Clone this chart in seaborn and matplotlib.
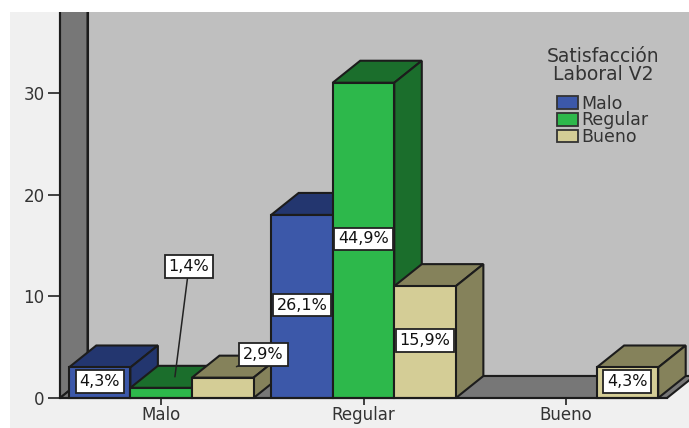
import matplotlib
matplotlib.use("Agg")
import matplotlib.pyplot as plt
import pandas as pd
import seaborn as sns
from matplotlib.patches import Patch, Polygon, Rectangle

# Cross-tabulated counts and their share of the total
categories = ["Malo", "Malo", "Malo", "Regular", "Regular", "Regular", "Bueno"]
groups = ["Malo", "Regular", "Bueno", "Malo", "Regular", "Bueno", "Bueno"]
counts = [3, 1, 2, 18, 31, 11, 3]
percent_labels = ["4,3%", "1,4%", "2,9%", "26,1%", "44,9%", "15,9%", "4,3%"]

category_order = ["Malo", "Regular", "Bueno"]
group_order = ["Malo", "Regular", "Bueno"]
y_ticks = [0, 10, 20, 30]
legend_title = "Satisfacción\nLaboral V2"

front_colors = {"Malo": "#3c58a9", "Regular": "#2db84b", "Bueno": "#d4cd96"}
depth_colors = {"Malo": "#23366f", "Regular": "#1b6e2c", "Bueno": "#85825b"}
EDGE = "#1c1c1c"
WALL = "#bfbfbf"
FLOOR = "#777777"
PANEL = "#f0f0f0"

W, H = 689, 428
sns.set_style("ticks")
plt.rcParams["font.family"] = ["DejaVu Sans"]
plt.rcParams["text.color"] = "#333333"

fig = plt.figure(figsize=(W / 100, H / 100), dpi=100, facecolor="white")
fig.add_artist(Rectangle((10 / W, 0), 1, (H - 12) / H, transform=fig.transFigure,
                         facecolor=PANEL, edgecolor="none", zorder=-10))
ax = fig.add_axes([60 / W, 30 / H, 607 / W, 386 / H])
ax.patch.set_visible(False)

data = pd.DataFrame({"category": categories, "group": groups, "count": counts,
                     "label": percent_labels})
sns.barplot(data=data, x="category", y="count", hue="group", order=category_order,
            hue_order=group_order, palette=front_colors, saturation=1, width=0.913,
            gap=0, dodge=True, legend=False, edgecolor=EDGE, linewidth=1.5, ax=ax,
            errorbar=None)
ax.set_xlim(-0.5, 2.5)
ax.set_ylim(0, 386 / 10.17)

# Oblique depth of the 3D box, expressed in data units
DX = 27.5 * 3 / 607
DY = 22 / 10.17
x0, x1 = ax.get_xlim()
y1 = ax.get_ylim()[1]


def face(points, color, zorder):
    ax.add_patch(Polygon(points, closed=True, facecolor=color, edgecolor=EDGE,
                         linewidth=1.5, zorder=zorder, clip_on=False))


# Room: back wall, left wall and floor; the walls run past the top margin band
face([(x0 + DX, DY), (x1 + DX, DY), (x1 + DX, y1 + 2), (x0 + DX, y1 + 2)], WALL, 0.5)
face([(x0, 0), (x0 + DX, DY), (x0 + DX, y1 + 2), (x0, y1 + 2)], FLOOR, 0.6)
face([(x0, 0), (x1, 0), (x1 + DX, DY), (x0 + DX, DY)], FLOOR, 0.7)
fig.add_artist(Rectangle((0, (H - 12) / H), 1, 12 / H, transform=fig.transFigure,
                         facecolor="white", edgecolor="none", zorder=5))

# Bars left to right, so each one hides the depth of its left neighbour
bars = sorted((p for p in ax.patches if isinstance(p, Rectangle) and p.get_height() > 0),
              key=lambda p: p.get_x())
rows = data.assign(pos=data["category"].map(category_order.index),
                   sub=data["group"].map(group_order.index)).sort_values(["pos", "sub"])

z = 1.0
for bar, (_, row) in zip(bars, rows.iterrows()):
    left, w, h = bar.get_x(), bar.get_width(), bar.get_height()
    right = left + w
    shade = depth_colors[row["group"]]
    face([(left, h), (right, h), (right + DX, h + DY), (left + DX, h + DY)], shade, z)
    face([(right, 0), (right + DX, DY), (right + DX, h + DY), (right, h)], shade, z + 0.1)
    bar.set_zorder(z + 0.2)
    bar.set_clip_on(False)
    z += 0.3

# Percentage boxes: centred on the bar, or pulled out with a leader when the bar is short
box = dict(boxstyle="square,pad=0.24", facecolor="white", edgecolor="#222222", linewidth=1.3)
PT = 72 / 100
for bar, (_, row) in zip(bars, rows.iterrows()):
    cx = bar.get_x() + bar.get_width() / 2
    h = bar.get_height()
    style = dict(ha="center", va="center", fontsize=11.5, color="#111111", bbox=box, zorder=20)
    leader = dict(arrowstyle="-", color="#222222", lw=1.1, shrinkA=0, shrinkB=0)
    if row["label"] == "1,4%":
        ax.annotate(row["label"], xy=(cx + DX / 2, h + DY / 2), xytext=(14 * PT, 110 * PT),
                    textcoords="offset points", arrowprops=leader, annotation_clip=False, **style)
    elif row["label"] == "2,9%":
        ax.annotate(row["label"], xy=(cx + DX / 2, h + DY / 2), xytext=(27 * PT, 12 * PT),
                    textcoords="offset points", arrowprops=leader, annotation_clip=False, **style)
    else:
        ax.annotate(row["label"], xy=(cx, h / 2), xytext=(0, 1), textcoords="offset points",
                    annotation_clip=False, **style)

# Axes
ax.set_xlabel("")
ax.set_ylabel("")
ax.set_yticks(y_ticks)
ax.tick_params(axis="y", length=9, width=1.2, color="#222222", labelsize=12,
               labelcolor="#333333", pad=2)
ax.tick_params(axis="x", length=5, width=1.2, color="#222222", labelsize=12,
               labelcolor="#333333", pad=1)
for side in ("top", "right"):
    ax.spines[side].set_visible(False)
for side in ("left", "bottom"):
    ax.spines[side].set_color(EDGE)
    ax.spines[side].set_linewidth(1.5)
    ax.spines[side].set_zorder(10)

# Legend placed on the back wall
handles = [Patch(facecolor=front_colors[g], edgecolor="#333333", linewidth=1.3, label=g)
           for g in group_order]
legend = fig.legend(handles=handles, title=legend_title, loc="upper center",
                    bbox_to_anchor=(603 / W, 1 - 47 / H), frameon=False, fontsize=12.5,
                    title_fontsize=13.5, handlelength=1.2, handleheight=0.72,
                    handletextpad=0.2, labelspacing=-0.07, borderpad=0, borderaxespad=0)
legend.get_title().set_multialignment("center")
legend.get_title().set_linespacing(0.9)
legend._legend_box.sep = 8
legend.set_zorder(30)

fig.savefig("out.png", dpi=100)
